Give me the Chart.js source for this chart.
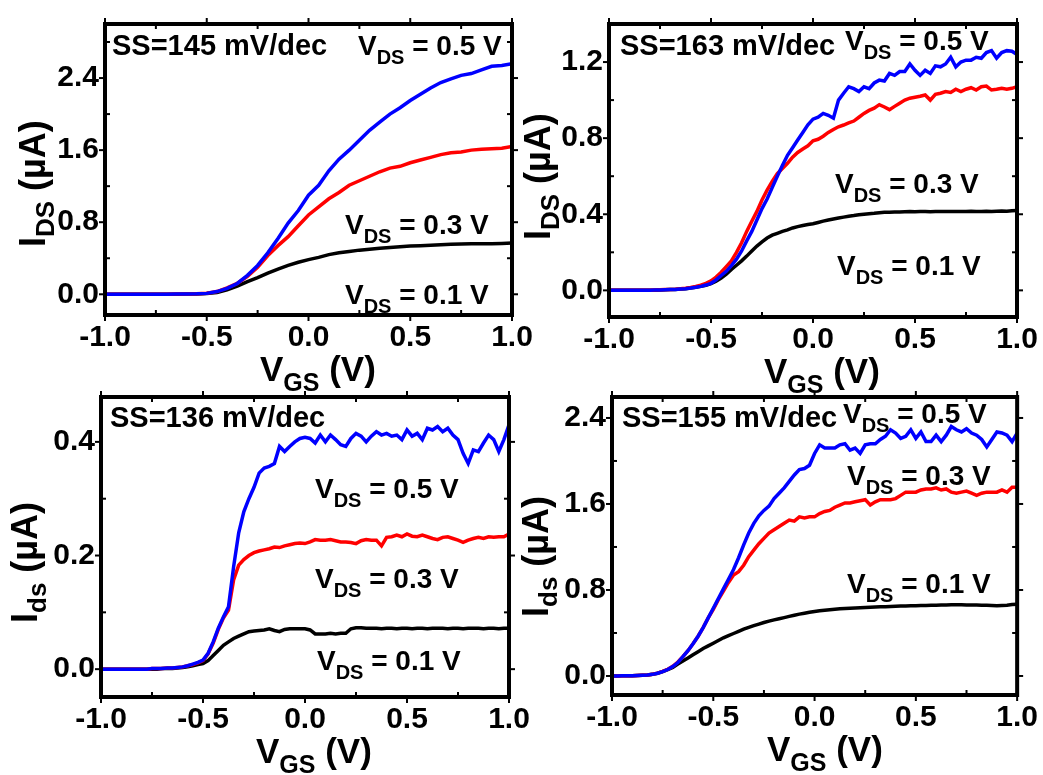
<!DOCTYPE html>
<html>
<head>
<meta charset="utf-8">
<script src="https://cdn.jsdelivr.net/npm/chart.js@4.4.0/dist/chart.umd.min.js"></script>
<style>
  body { margin: 0; background: #fff; }
  #wrap { position: relative; width: 1043px; height: 775px; }
  #wrap canvas { position: absolute; left: 0; top: 0; }
</style>
</head>
<body>
<div id="wrap">
  <canvas id="c1" width="1043" height="775"></canvas>
  <canvas id="c2" width="1043" height="775"></canvas>
  <canvas id="c3" width="1043" height="775"></canvas>
  <canvas id="c4" width="1043" height="775"></canvas>
</div>
<script>
// VGS sweep (V)
const VGS_COARSE = [-1, -0.95, -0.9, -0.85, -0.8, -0.75, -0.7, -0.65, -0.6, -0.55, -0.5, -0.45, -0.4, -0.35, -0.3, -0.25, -0.2, -0.15, -0.1, -0.05,
  0, 0.05, 0.1, 0.15, 0.2, 0.25, 0.3, 0.35, 0.4, 0.45, 0.5, 0.55, 0.6, 0.65, 0.7, 0.75, 0.8, 0.85, 0.9, 0.95, 1];
const VGS_FINE = [-1, -0.975, -0.95, -0.925, -0.9, -0.875, -0.85, -0.825, -0.8, -0.775, -0.75, -0.725, -0.7, -0.675, -0.65, -0.625,
  -0.6, -0.575, -0.55, -0.525, -0.5, -0.475, -0.45, -0.425, -0.4, -0.375, -0.35, -0.325, -0.3, -0.275, -0.25, -0.225,
  -0.2, -0.175, -0.15, -0.125, -0.1, -0.075, -0.05, -0.025, 0, 0.025, 0.05, 0.075, 0.1, 0.125, 0.15, 0.175,
  0.2, 0.225, 0.25, 0.275, 0.3, 0.325, 0.35, 0.375, 0.4, 0.425, 0.45, 0.475, 0.5, 0.525, 0.55, 0.575,
  0.6, 0.625, 0.65, 0.675, 0.7, 0.725, 0.75, 0.775, 0.8, 0.825, 0.85, 0.875, 0.9, 0.925, 0.95, 0.975, 1];

// Panel 1 (uA), VDS = 0.5 / 0.3 / 0.1 V
const P1_BLUE = [0, 0, 0, 0, 0, 0, 0.001, 0.002, 0.003, 0.005, 0.01, 0.03, 0.065, 0.12, 0.21, 0.32, 0.46, 0.62, 0.79, 0.93,
  1.10, 1.21, 1.37, 1.50, 1.60, 1.71, 1.82, 1.91, 2.00, 2.07, 2.15, 2.22, 2.29, 2.35, 2.39, 2.43, 2.45, 2.49, 2.53, 2.54, 2.56];
const P1_RED = [0, 0, 0, 0, 0, 0, 0.001, 0.002, 0.003, 0.006, 0.012, 0.03, 0.07, 0.12, 0.20, 0.30, 0.43, 0.54, 0.64, 0.76,
  0.88, 0.97, 1.06, 1.13, 1.21, 1.26, 1.31, 1.36, 1.40, 1.42, 1.46, 1.49, 1.52, 1.55, 1.57, 1.58, 1.60, 1.61, 1.615, 1.62, 1.64];
const P1_BLACK = [0, 0, 0, 0, 0, 0, 0.001, 0.001, 0.002, 0.004, 0.008, 0.02, 0.05, 0.09, 0.14, 0.185, 0.235, 0.28, 0.32, 0.355,
  0.385, 0.41, 0.44, 0.46, 0.475, 0.49, 0.50, 0.51, 0.52, 0.528, 0.535, 0.54, 0.545, 0.55, 0.555, 0.557, 0.56, 0.56, 0.562, 0.565, 0.57];

// Panel 2
const P2_BLUE = [0, 0, 0, 0, 0, 0, 0, 0, 0.001, 0.002, 0.002, 0.003, 0.004, 0.005, 0.007, 0.009,
  0.012, 0.016, 0.021, 0.028, 0.037, 0.055, 0.078, 0.10, 0.13, 0.164, 0.207, 0.26, 0.31, 0.37, 0.43, 0.48,
  0.54, 0.60, 0.656, 0.71, 0.75, 0.79, 0.83, 0.87, 0.90, 0.91, 0.93, 0.92, 0.905, 1.0, 1.036, 1.07,
  1.06, 1.045, 1.07, 1.06, 1.09, 1.105, 1.10, 1.14, 1.13, 1.15, 1.15, 1.19, 1.157, 1.13, 1.157, 1.14,
  1.18, 1.175, 1.19, 1.225, 1.175, 1.20, 1.21, 1.21, 1.225, 1.22, 1.25, 1.26, 1.22, 1.25, 1.26, 1.257, 1.24];
const P2_RED = [0, 0, 0, 0, 0, 0, 0, 0, 0.001, 0.002, 0.003, 0.004, 0.005, 0.006, 0.008, 0.011,
  0.015, 0.02, 0.027, 0.037, 0.05, 0.07, 0.095, 0.125, 0.155, 0.2, 0.25, 0.31, 0.363, 0.415, 0.475, 0.527,
  0.573, 0.613, 0.64, 0.668, 0.70, 0.725, 0.743, 0.76, 0.786, 0.794, 0.81, 0.83, 0.846, 0.86, 0.869, 0.88,
  0.89, 0.91, 0.93, 0.946, 0.958, 0.976, 0.964, 0.95, 0.967, 0.984, 1.0, 1.01, 1.015, 1.02, 1.027, 1.0,
  1.03, 1.036, 1.045, 1.04, 1.057, 1.045, 1.057, 1.065, 1.053, 1.07, 1.074, 1.053, 1.057, 1.062, 1.057, 1.062, 1.07];
const P2_BLACK = [0, 0, 0, 0, 0, 0, 0, 0, 0.001, 0.001, 0.002, 0.003, 0.004, 0.005, 0.007, 0.009,
  0.012, 0.016, 0.021, 0.027, 0.035, 0.048, 0.065, 0.085, 0.11, 0.132, 0.155, 0.18, 0.207, 0.233, 0.255, 0.275,
  0.29, 0.30, 0.31, 0.318, 0.328, 0.335, 0.341, 0.346, 0.35, 0.357, 0.364, 0.37, 0.375, 0.38, 0.385, 0.39,
  0.393, 0.397, 0.40, 0.403, 0.405, 0.408, 0.41, 0.411, 0.412, 0.412, 0.413, 0.414, 0.413, 0.414, 0.415, 0.413,
  0.414, 0.414, 0.415, 0.414, 0.415, 0.414, 0.415, 0.416, 0.415, 0.414, 0.416, 0.415, 0.416, 0.417, 0.416, 0.418, 0.42];

// Panel 3
const P3_BLUE = [0, 0, 0, 0, 0, 0, 0, 0, 0, 0, 0.001, 0.001, 0.001, 0.002, 0.002, 0.003,
  0.004, 0.006, 0.009, 0.012, 0.016, 0.028, 0.048, 0.072, 0.092, 0.11, 0.18, 0.24, 0.277, 0.30, 0.32, 0.345,
  0.354, 0.357, 0.362, 0.392, 0.383, 0.392, 0.40, 0.406, 0.408, 0.406, 0.398, 0.412, 0.40, 0.412, 0.404, 0.395,
  0.392, 0.406, 0.415, 0.41, 0.40, 0.41, 0.418, 0.412, 0.415, 0.41, 0.412, 0.404, 0.421, 0.41, 0.415, 0.404,
  0.424, 0.421, 0.427, 0.418, 0.424, 0.412, 0.404, 0.38, 0.362, 0.386, 0.383, 0.398, 0.412, 0.404, 0.383, 0.404, 0.43];
const P3_RED = [0, 0, 0, 0, 0, 0, 0, 0, 0, 0, 0.001, 0.001, 0.001, 0.002, 0.002, 0.003,
  0.004, 0.006, 0.008, 0.011, 0.015, 0.027, 0.046, 0.07, 0.09, 0.104, 0.157, 0.183, 0.193, 0.20, 0.205, 0.208,
  0.21, 0.212, 0.215, 0.214, 0.217, 0.219, 0.221, 0.222, 0.221, 0.224, 0.228, 0.227, 0.227, 0.228, 0.226, 0.224,
  0.224, 0.223, 0.221, 0.226, 0.228, 0.227, 0.227, 0.217, 0.232, 0.233, 0.236, 0.233, 0.238, 0.234, 0.233, 0.236,
  0.233, 0.230, 0.228, 0.232, 0.233, 0.230, 0.227, 0.223, 0.227, 0.230, 0.232, 0.230, 0.233, 0.232, 0.233, 0.233, 0.238];
const P3_BLACK = [0, 0, 0, 0, 0, 0, 0, 0, 0, 0, 0, 0, 0.001, 0.001, 0.001, 0.002,
  0.003, 0.004, 0.006, 0.008, 0.01, 0.015, 0.024, 0.033, 0.042, 0.048, 0.054, 0.058, 0.062, 0.066, 0.067, 0.068,
  0.069, 0.071, 0.068, 0.066, 0.070, 0.071, 0.071, 0.071, 0.071, 0.069, 0.062, 0.062, 0.062, 0.063, 0.062, 0.063,
  0.063, 0.071, 0.073, 0.073, 0.072, 0.072, 0.072, 0.071, 0.072, 0.072, 0.071, 0.072, 0.072, 0.071, 0.072, 0.072,
  0.071, 0.072, 0.072, 0.072, 0.071, 0.072, 0.072, 0.071, 0.072, 0.072, 0.072, 0.071, 0.072, 0.072, 0.071, 0.072, 0.072];

// Panel 4
const P4_BLUE = [0, 0, 0.001, 0.002, 0.003, 0.005, 0.007, 0.01, 0.015, 0.025, 0.04, 0.06, 0.087, 0.125, 0.18, 0.235,
  0.30, 0.37, 0.45, 0.54, 0.63, 0.72, 0.81, 0.90, 0.99, 1.10, 1.22, 1.33, 1.42, 1.49, 1.54, 1.58,
  1.65, 1.70, 1.75, 1.81, 1.87, 1.92, 1.93, 1.96, 2.07, 2.15, 2.12, 2.12, 2.12, 2.15, 2.16, 2.10,
  2.12, 2.07, 2.15, 2.16, 2.16, 2.20, 2.23, 2.29, 2.26, 2.21, 2.23, 2.29, 2.21, 2.27, 2.18, 2.18,
  2.24, 2.18, 2.24, 2.32, 2.29, 2.27, 2.30, 2.26, 2.24, 2.20, 2.13, 2.20, 2.27, 2.26, 2.24, 2.18, 2.26];
const P4_RED = [0, 0, 0.001, 0.002, 0.003, 0.005, 0.007, 0.01, 0.016, 0.026, 0.042, 0.062, 0.09, 0.13, 0.18, 0.235,
  0.30, 0.37, 0.45, 0.54, 0.62, 0.71, 0.79, 0.87, 0.94, 0.97, 1.03, 1.11, 1.17, 1.23, 1.28, 1.33,
  1.36, 1.39, 1.42, 1.45, 1.44, 1.48, 1.47, 1.48, 1.48, 1.51, 1.53, 1.54, 1.57, 1.59, 1.61, 1.61,
  1.62, 1.63, 1.64, 1.59, 1.62, 1.64, 1.64, 1.64, 1.65, 1.68, 1.71, 1.71, 1.71, 1.73, 1.74, 1.74,
  1.75, 1.73, 1.74, 1.71, 1.70, 1.71, 1.72, 1.70, 1.68, 1.70, 1.71, 1.71, 1.71, 1.73, 1.71, 1.755, 1.755];
const P4_BLACK = [0, 0, 0.001, 0.002, 0.003, 0.005, 0.007, 0.01, 0.015, 0.025, 0.04, 0.058, 0.08, 0.11, 0.14, 0.168,
  0.198, 0.226, 0.255, 0.28, 0.305, 0.33, 0.355, 0.375, 0.395, 0.415, 0.435, 0.452, 0.468, 0.483, 0.497, 0.51,
  0.522, 0.533, 0.543, 0.554, 0.565, 0.575, 0.584, 0.592, 0.6, 0.606, 0.612, 0.617, 0.621, 0.625, 0.628, 0.63,
  0.632, 0.635, 0.638, 0.64, 0.642, 0.644, 0.645, 0.647, 0.649, 0.651, 0.652, 0.653, 0.654, 0.655, 0.656, 0.657,
  0.658, 0.66, 0.661, 0.662, 0.663, 0.662, 0.661, 0.66, 0.66, 0.659, 0.657, 0.655, 0.654, 0.655, 0.657, 0.664, 0.668];

// Ticks
const X_TICKS = [-1, -0.5, 0, 0.5, 1];
const X_MINOR = [-0.75, -0.25, 0.25, 0.75];
const P1_Y_TICKS = [0, 0.8, 1.6, 2.4];
const P1_Y_MINOR = [0.4, 1.2, 2.0, 2.8];
const P2_Y_TICKS = [0, 0.4, 0.8, 1.2];
const P2_Y_MINOR = [0.2, 0.6, 1.0];
const P3_Y_TICKS = [0, 0.2, 0.4];
const P3_Y_MINOR = [0.1, 0.3];
const P4_Y_TICKS = [0, 0.8, 1.6, 2.4];
const P4_Y_MINOR = [0.4, 1.2, 2.0];

// Labels
const SS_LABELS = ['SS=145 mV/dec', 'SS=163 mV/dec', 'SS=136 mV/dec', 'SS=155 mV/dec'];
const VDS_VALUES = ['0.5', '0.3', '0.1'];

const FONT = '"Liberation Sans", Arial, sans-serif';
const COLORS = ['#0000ff', '#ff0000', '#000000'];

const vds = k => [['V'], ['DS', true], [' = ' + VDS_VALUES[k] + ' V']];
const X_TITLE = [['V'], ['GS', true], [' (V)']];

function drawRich(ctx, parts, x, y, size, subSize, drop) {
  let cx = x;
  parts.forEach(([t, sub]) => {
    ctx.font = 'bold ' + (sub ? subSize : size) + 'px ' + FONT;
    ctx.fillText(t, cx, y + (sub ? drop : 0));
    cx += ctx.measureText(t).width;
  });
}

// box, ticks, text with subscripts
const decor = {
  id: 'decor',
  afterDatasetsDraw(chart, args, o) {
    const { ctx, chartArea: a, scales: { x, y } } = chart;
    ctx.save();
    ctx.strokeStyle = '#000';
    ctx.lineWidth = 4;
    ctx.strokeRect(a.left, a.top, a.right - a.left, a.bottom - a.top);

    ctx.lineWidth = 2;
    const seg = (x1, y1, x2, y2) => { ctx.beginPath(); ctx.moveTo(x1, y1); ctx.lineTo(x2, y2); ctx.stroke(); };
    X_TICKS.forEach(v => { const p = x.getPixelForValue(v); seg(p, a.bottom, p, a.bottom + 6); seg(p, a.top, p, a.top - 6); });
    X_MINOR.forEach(v => { const p = x.getPixelForValue(v); seg(p, a.bottom, p, a.bottom - 5); seg(p, a.top, p, a.top + 5); });
    o.yTicks.forEach(v => { const p = y.getPixelForValue(v); seg(a.left, p, a.left - 6, p); seg(a.right, p, a.right + 6, p); });
    o.yMinor.forEach(v => { const p = y.getPixelForValue(v); seg(a.left, p, a.left + 5, p); seg(a.right, p, a.right - 5, p); });

    ctx.fillStyle = '#000';
    ctx.textAlign = 'left';
    ctx.textBaseline = 'alphabetic';
    o.notes.forEach(n => drawRich(ctx, n.parts, a.left + n.dx, a.top + n.dy, n.size || 28, 20, 9));
    drawRich(ctx, X_TITLE, a.left + 155, a.bottom + 66, 35, 25, 10);

    ctx.translate(a.left - o.yTitle.dx, a.bottom - o.yTitle.dy);
    ctx.rotate(-Math.PI / 2);
    drawRich(ctx, o.yTitle.parts, 0, 0, 36, 26, 9);
    ctx.restore();
  }
};

function makePanel(id, p) {
  const tickFont = { family: FONT, size: 30, weight: 'bold' };
  new Chart(document.getElementById(id), {
    type: 'line',
    data: {
      datasets: p.series.map((s, k) => ({
        data: p.x.map((v, i) => ({ x: v, y: s[i] })),
        borderColor: COLORS[k],
        borderWidth: 3.5,
        pointRadius: 0,
        tension: 0,
        fill: false,
      })),
    },
    options: {
      responsive: false,
      animation: false,
      layout: { padding: p.pad },
      plugins: {
        legend: { display: false },
        tooltip: { enabled: false },
        decor: { yTicks: p.yTicks, yMinor: p.yMinor, notes: p.notes, yTitle: p.yTitle },
      },
      scales: {
        x: {
          type: 'linear', min: -1, max: 1,
          grid: { display: false, drawTicks: false },
          border: { display: false },
          afterBuildTicks: s => { s.ticks = X_TICKS.map(v => ({ value: v })); },
          afterFit: s => { s.height = 50; },
          ticks: { color: '#000', font: tickFont, padding: 5, maxRotation: 0, autoSkip: false, callback: v => v.toFixed(1) },
        },
        y: {
          type: 'linear', min: p.yMin, max: p.yMax,
          grid: { display: false, drawTicks: false },
          border: { display: false },
          afterBuildTicks: s => { s.ticks = p.yTicks.map(v => ({ value: v })); },
          afterFit: s => { s.width = 60; },
          ticks: { color: '#000', font: tickFont, padding: 6, autoSkip: false, callback: v => v.toFixed(1) },
        },
      },
    },
    plugins: [decor],
  });
}

const IDS = [['I'], ['DS', true], [' (\u00b5A)']];
const Ids = [['I'], ['ds', true], [' (\u00b5A)']];

makePanel('c1', {
  x: VGS_COARSE, series: [P1_BLUE, P1_RED, P1_BLACK],
  yMin: -0.23, yMax: 3.0, yTicks: P1_Y_TICKS, yMinor: P1_Y_MINOR,
  pad: { left: 45, top: 17, right: 531, bottom: 410 },
  notes: [
    { parts: [[SS_LABELS[0]]], dx: 7, dy: 31, size: 29 },
    { parts: vds(0), dx: 253, dy: 31 },
    { parts: vds(1), dx: 240, dy: 210 },
    { parts: vds(2), dx: 240, dy: 280 },
  ],
  yTitle: { parts: IDS, dx: 60, dy: 68 },
});

makePanel('c2', {
  x: VGS_FINE, series: [P2_BLUE, P2_RED, P2_BLACK],
  yMin: -0.14, yMax: 1.40, yTicks: P2_Y_TICKS, yMinor: P2_Y_MINOR,
  pad: { left: 549, top: 19, right: 26, bottom: 408 },
  notes: [
    { parts: [[SS_LABELS[1]]], dx: 11, dy: 31, size: 29 },
    { parts: vds(0), dx: 236, dy: 26 },
    { parts: vds(1), dx: 226, dy: 169 },
    { parts: vds(2), dx: 228, dy: 251 },
  ],
  yTitle: { parts: IDS, dx: 59, dy: 77 },
});

makePanel('c3', {
  x: VGS_FINE, series: [P3_BLUE, P3_RED, P3_BLACK],
  yMin: -0.049, yMax: 0.479, yTicks: P3_Y_TICKS, yMinor: P3_Y_MINOR,
  pad: { left: 41, top: 397, right: 534, bottom: 28 },
  notes: [
    { parts: [[SS_LABELS[2]]], dx: 9, dy: 30, size: 29 },
    { parts: vds(0), dx: 214, dy: 101 },
    { parts: vds(1), dx: 214, dy: 191 },
    { parts: vds(2), dx: 216, dy: 273 },
  ],
  yTitle: { parts: Ids, dx: 64, dy: 74 },
});

makePanel('c4', {
  x: VGS_FINE, series: [P4_BLUE, P4_RED, P4_BLACK],
  yMin: -0.177, yMax: 2.595, yTicks: P4_Y_TICKS, yMinor: P4_Y_MINOR,
  pad: { left: 552, top: 397, right: 24, bottom: 30 },
  notes: [
    { parts: [[SS_LABELS[3]]], dx: 10, dy: 30, size: 29 },
    { parts: vds(0), dx: 231, dy: 26 },
    { parts: vds(1), dx: 235, dy: 88 },
    { parts: vds(2), dx: 235, dy: 196 },
  ],
  yTitle: { parts: Ids, dx: 64, dy: 78 },
});
</script>
</body>
</html>
